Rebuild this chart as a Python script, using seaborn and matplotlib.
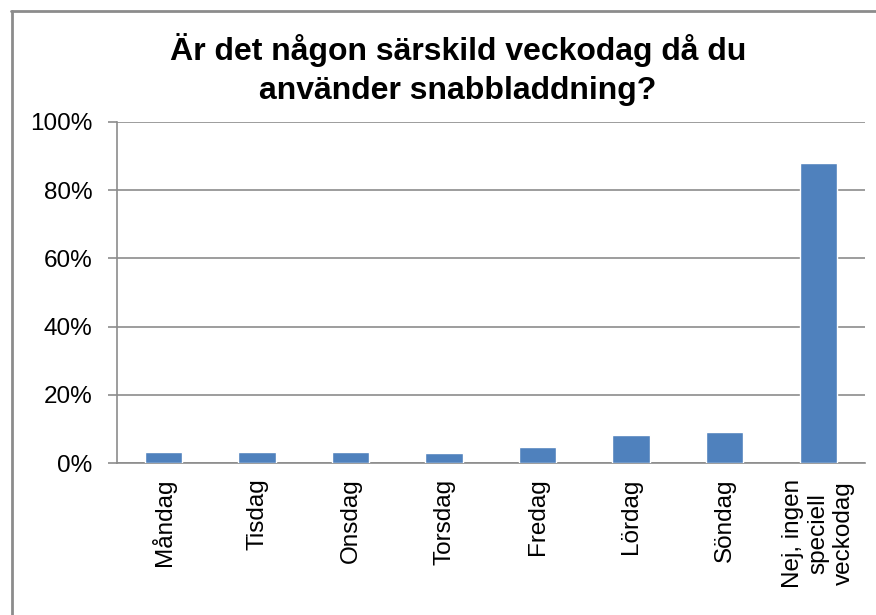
import pandas as pd
import seaborn as sns
import matplotlib.pyplot as plt
from matplotlib.lines import Line2D
from matplotlib.ticker import PercentFormatter

# Data
days = ["Måndag", "Tisdag", "Onsdag", "Torsdag", "Fredag", "Lördag", "Söndag",
        "Nej, ingen\nspeciell\nveckodag"]
share = [3.4, 3.4, 3.4, 3.0, 4.9, 8.3, 9.1, 88.0]

df = pd.DataFrame({"dag": days, "andel": share})

sns.set_style("white")
plt.rcParams['font.family'] = ['Liberation Sans', 'DejaVu Sans']
plt.rcParams['text.color'] = 'black'
plt.rcParams['xtick.color'] = 'black'
plt.rcParams['ytick.color'] = 'black'

fig = plt.figure(figsize=(8.76, 6.15), dpi=100)
ax = fig.add_axes([0.1332, 0.2467, 0.8543, 0.5554])

sns.barplot(x="dag", y="andel", data=df, color="#4F81BD", width=0.4,
            saturation=1, ax=ax, zorder=3)

ax.set_ylim(0, 100)
ax.set_xlim(-0.5, len(days) - 0.5)
ax.set_yticks(range(0, 101, 20))
ax.yaxis.set_major_formatter(PercentFormatter(decimals=0))
ax.set_xlabel("")
ax.set_ylabel("")

# gridlines
ax.yaxis.grid(True, color="#8c8c8c", linewidth=1.2, zorder=0)
ax.xaxis.grid(False)

for s in ["top", "right"]:
    ax.spines[s].set_visible(False)
for s in ["left", "bottom"]:
    ax.spines[s].set_color("#8c8c8c")
    ax.spines[s].set_linewidth(1.2)

# category boundary ticks on x
ax.set_xticks([i - 0.5 for i in range(len(days) + 1)], minor=True)
ax.tick_params(axis="x", which="minor", length=6, width=1.2, color="#8c8c8c",
               direction="out")
ax.tick_params(axis="x", which="major", length=0, pad=11, labelsize=17.5,
               labelcolor="black")
ax.set_xticklabels(days, rotation=90, va="top", ha="center", multialignment="center")
ax.tick_params(axis="y", length=6.5, width=1.2, color="#8c8c8c", pad=11,
               labelsize=17.5, labelcolor="black", left=True)

fig.text(0.523, 0.887, "Är det någon särskild veckodag då du\nanvänder snabbladdning?",
         ha="center", va="center", fontsize=23, fontweight="bold",
         linespacing=1.35, color="black")

# chart area border (left and top visible)
fig.add_artist(Line2D([12 / 876, 12 / 876], [0, 1 - 11 / 615],
                      transform=fig.transFigure, color="#8c8c8c", linewidth=2))
fig.add_artist(Line2D([11 / 876, 1], [1 - 11 / 615, 1 - 11 / 615],
                      transform=fig.transFigure, color="#8c8c8c", linewidth=2))

fig.savefig("out.png", dpi=100)
